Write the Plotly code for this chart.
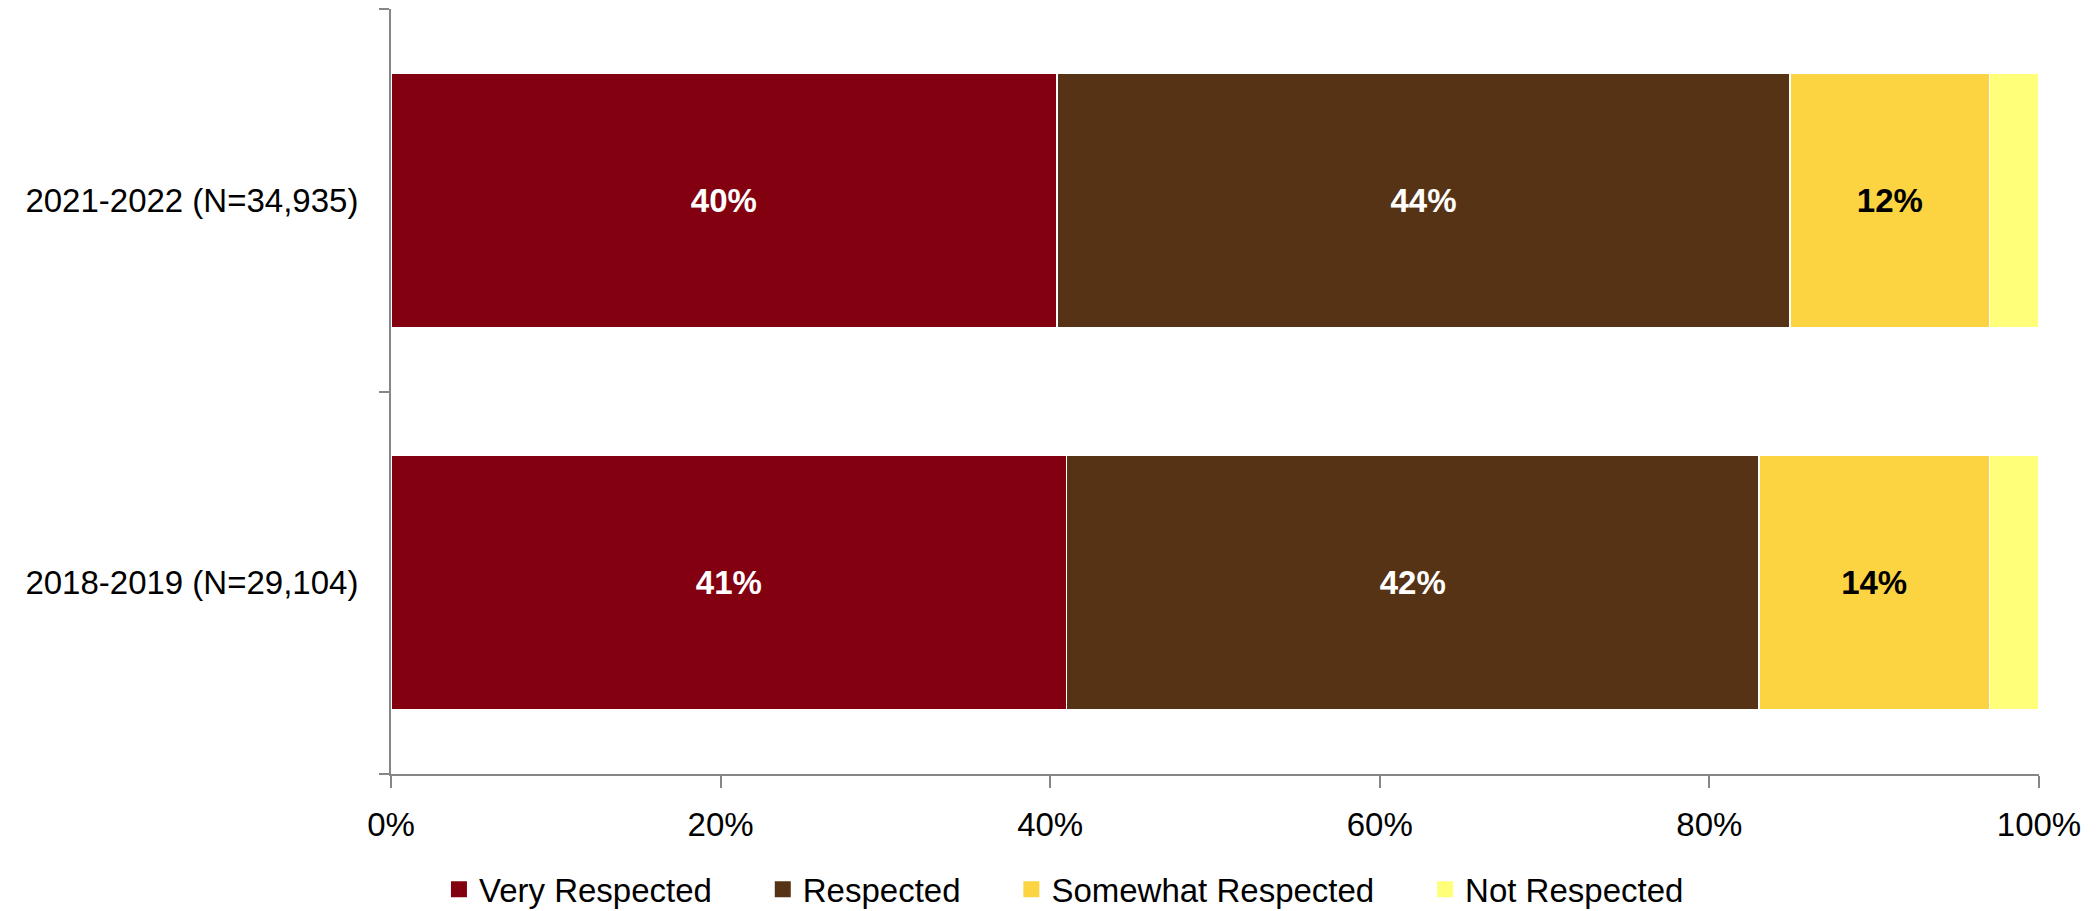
import plotly.graph_objects as go

categories = ["2018-2019 (N=29,104)", "2021-2022 (N=34,935)"]
series_names = ["Very Respected", "Respected", "Somewhat Respected", "Not Respected"]
very_respected = [41.0, 40.4]
respected = [42.0, 44.5]
somewhat_respected = [14.0, 12.1]
not_respected = [3.0, 3.0]
labels_very = ["41%", "40%"]
labels_resp = ["42%", "44%"]
labels_some = ["14%", "12%"]
labels_not = ["", ""]
x_ticks = [0, 20, 40, 60, 80, 100]
x_tick_labels = ["0%", "20%", "40%", "60%", "80%", "100%"]

colors = ["#830010", "#573315", "#FCD441", "#FFFF7A"]
text_colors = ["white", "white", "black", "black"]
values = [very_respected, respected, somewhat_respected, not_respected]
texts = [labels_very, labels_resp, labels_some, labels_not]

FONT = "'Liberation Sans', Arial, sans-serif"
FS = 33
AXIS_COLOR = "#868686"

fig = go.Figure()
for name, vals, col, tcol, txt in zip(series_names, values, colors, text_colors, texts):
    fig.add_trace(go.Bar(
        y=categories, x=vals, name=name, orientation="h",
        marker=dict(color=col, line=dict(color="white", width=1.5)),
        text=txt, textposition="inside", insidetextanchor="middle",
        textangle=0,
        textfont=dict(color=tcol, size=FS, family=FONT, weight="bold"),
        hoverinfo="x+name", showlegend=False,
    ))

# legend entries (square swatches)
pad = "\u00a0" * 5
for i, (name, col) in enumerate(zip(series_names, colors)):
    fig.add_trace(go.Scatter(
        x=[None], y=[None], mode="markers", name=name + (pad if i < 3 else ""),
        marker=dict(symbol="square", size=16, color=col, line=dict(width=0)),
        showlegend=True, hoverinfo="skip",
    ))

fig.update_layout(
    barmode="stack",
    bargap=0.335,
    width=2091, height=903,
    margin=dict(l=383, r=60, t=1, b=137),
    paper_bgcolor="white", plot_bgcolor="white",
    font=dict(family=FONT, size=FS, color="black"),
    legend=dict(orientation="h", x=0.505, xanchor="center", xref="container",
                y=0.024, yanchor="middle", yref="container",
                font=dict(size=FS, family=FONT),
                traceorder="normal", itemwidth=30, itemsizing="trace"),
    showlegend=True,
)
fig.update_xaxes(range=[0, 100], tickvals=x_ticks, ticktext=x_tick_labels,
                 showline=True, linecolor=AXIS_COLOR, linewidth=2,
                 ticks="outside", ticklen=12, tickcolor=AXIS_COLOR, tickwidth=1.5,
                 showgrid=False, zeroline=False, ticklabelstandoff=8,
                 tickfont=dict(size=FS, family=FONT))
fig.update_yaxes(categoryorder="array", categoryarray=categories,
                 showline=True, linecolor=AXIS_COLOR, linewidth=2,
                 ticks="outside", ticklen=10, tickcolor=AXIS_COLOR, tickwidth=1.5,
                 tickson="boundaries", showgrid=False, zeroline=False,
                 ticklabelstandoff=24, tickfont=dict(size=FS, family=FONT))

fig.write_html("out.html")
